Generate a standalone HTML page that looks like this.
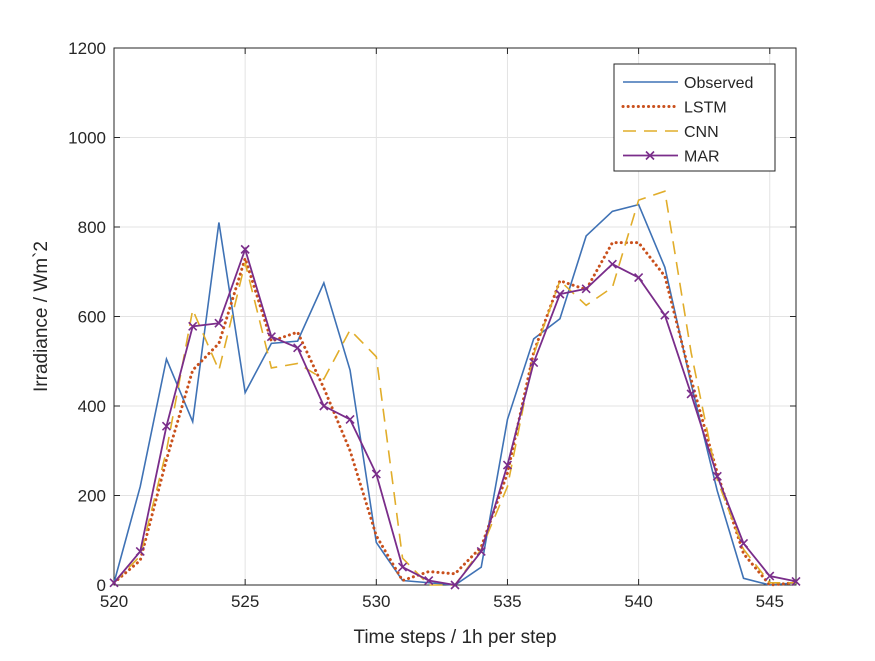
<!DOCTYPE html>
<html><head><meta charset="utf-8"><style>
body{margin:0;background:#fff;font-family:"Liberation Sans",sans-serif}
svg text{font-family:"Liberation Sans",sans-serif;fill:#262626}
</style></head><body>
<svg id="c" width="875" height="656"></svg>
<script>
const steps=[520,521,522,523,524,525,526,527,528,529,530,531,532,533,534,535,536,537,538,539,540,541,542,543,544,545,546];
const observed=[5,220,505,365,810,430,540,545,675,480,95,10,5,0,40,370,550,595,780,835,850,710,450,210,15,0,5];
const lstm=[5,55,280,480,540,730,545,565,440,300,110,10,30,25,85,250,520,680,660,765,765,690,460,250,70,0,5];
const cnn=[5,65,300,615,480,720,485,495,460,570,510,60,0,0,80,220,515,680,625,665,860,880,520,235,80,5,5];
const mar=[5,75,355,578,585,750,555,530,400,370,248,40,10,0,75,268,497,650,662,717,687,603,427,243,93,20,8];
const xTicks=[520,525,530,535,540,545];
const yTicks=[0,200,400,600,800,1000,1200];
const L=114,R=796,T=48,B=585;
const X=v=>L+(v-520)/26*(R-L);
const Y=v=>B-v/1200*(B-T);
const svg=document.getElementById('c');const NS='http://www.w3.org/2000/svg';
function mk(t,a,p){const e=document.createElementNS(NS,t);for(const k in a)e.setAttribute(k,a[k]);(p||svg).appendChild(e);return e;}
mk('rect',{x:L,y:T,width:R-L,height:B-T,fill:'#fff'});
xTicks.forEach(v=>{const g=mk('line',{x1:X(v),x2:X(v),y1:T,y2:B,stroke:'#e3e3e3'});

mk('line',{x1:X(v),x2:X(v),y1:B,y2:B-6,stroke:'#262626'});mk('line',{x1:X(v),x2:X(v),y1:T,y2:T+6,stroke:'#262626'});
const t=mk('text',{x:X(v),y:B+22,'text-anchor':'middle','font-size':17});t.textContent=v;
});
yTicks.forEach(v=>{const g=mk('line',{x1:L,x2:R,y1:Y(v),y2:Y(v),stroke:'#e3e3e3'});

mk('line',{x1:L,x2:L+6,y1:Y(v),y2:Y(v),stroke:'#262626'});mk('line',{x1:R,x2:R-6,y1:Y(v),y2:Y(v),stroke:'#262626'});
const t=mk('text',{x:L-8,y:Y(v)+6,'text-anchor':'end','font-size':17});t.textContent=v;
});
mk('rect',{x:L,y:T,width:R-L,height:B-T,fill:'none',stroke:'#262626'});
function series(vals,color,w,dash,name){const p=mk('polyline',{points:vals.map((v,i)=>X(steps[i])+','+Y(v)).join(' '),fill:'none',stroke:color,'stroke-width':w,'stroke-dasharray':dash||'none','stroke-linecap':dash&&dash.startsWith('0')?'round':'butt'});
}
series(observed,'#3f72b5',1.6,null,'observed-line');
series(lstm,'#c9501c',3,'0.1 5','lstm-line');
series(cnn,'#e1ad2a',1.6,'13 8','cnn-line');
series(mar,'#7a2d8a',1.8,null,'mar-line');
mar.forEach((v,i)=>{const x=X(steps[i]),y=Y(v);const g=mk('path',{d:`M${x-4},${y-4}L${x+4},${y+4}M${x-4},${y+4}L${x+4},${y-4}`,stroke:'#7a2d8a','stroke-width':1.6});
});
const xl=mk('text',{x:(L+R)/2,y:643,'text-anchor':'middle','font-size':19});xl.textContent='Time steps / 1h per step';

const yl=mk('text',{x:0,y:0,'text-anchor':'middle','font-size':19,transform:`translate(47,${(T+B)/2}) rotate(-90)`});yl.textContent='Irradiance / Wm`2';

const lg=mk('g',{});
mk('rect',{x:614,y:64,width:161,height:107,fill:'#fff',stroke:'#262626'},lg);
const items=[['Observed','#3f72b5',1.6,null],['LSTM','#c9501c',3,'0.1 5'],['CNN','#e1ad2a',1.6,'13 8'],['MAR','#7a2d8a',1.8,null]];
items.forEach((it,i)=>{const y=82+i*24.5;
const ln=mk('line',{x1:623,x2:678,y1:y,y2:y,stroke:it[1],'stroke-width':it[2],'stroke-dasharray':it[3]||'none','stroke-linecap':it[3]&&it[3].startsWith('0')?'round':'butt'},lg);

if(i==3)mk('path',{d:`M646,${y-4}L654,${y+4}M646,${y+4}L654,${y-4}`,stroke:it[1],'stroke-width':1.6},lg);
const t=mk('text',{x:684,y:y+6,'font-size':16},lg);t.textContent=it[0];
});
</script>
</body></html>
